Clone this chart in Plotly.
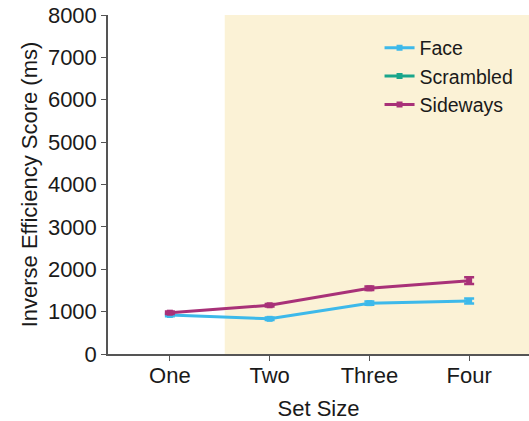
import plotly.graph_objects as go

categories = ["One", "Two", "Three", "Four"]
face = [920, 830, 1200, 1250]
face_err = [30, 30, 40, 60]
sideways = [975, 1150, 1550, 1730]
sideways_err = [30, 30, 40, 80]
scrambled = [None, None, None, None]
yticks = [0, 1000, 2000, 3000, 4000, 5000, 6000, 7000, 8000]

FONT = "Liberation Sans, Arial, sans-serif"

fig = go.Figure()
fig.add_shape(type="rect", xref="x", yref="paper", x0=0.55, x1=3.6, y0=0, y1=1,
              fillcolor="#fbf2d6", line_width=0, layer="below")

fig.add_trace(go.Scatter(x=[0, 1, 2, 3], y=face, name="Face", mode="lines+markers",
                         line=dict(color="#3db9ea", width=3),
                         marker=dict(symbol="square", size=6, color="#3db9ea"),
                         error_y=dict(type="data", array=face_err, color="#3db9ea", thickness=2.5, width=5)))
fig.add_trace(go.Scatter(x=[0, 1, 2, 3], y=scrambled, name="Scrambled", mode="lines+markers",
                         line=dict(color="#19a68b", width=3),
                         marker=dict(symbol="square", size=6, color="#19a68b")))
fig.add_trace(go.Scatter(x=[0, 1, 2, 3], y=sideways, name="Sideways", mode="lines+markers",
                         line=dict(color="#a83178", width=3),
                         marker=dict(symbol="square", size=6, color="#a83178"),
                         error_y=dict(type="data", array=sideways_err, color="#a83178", thickness=2.5, width=5)))

fig.update_layout(
    width=529, height=421,
    margin=dict(l=108, r=0, t=15, b=67),
    paper_bgcolor="white", plot_bgcolor="rgba(0,0,0,0)",
    font=dict(family=FONT, size=23, color="#1a1a1a"),
    showlegend=True,
    legend=dict(x=0.645, y=0.96, xanchor="left", yanchor="top", bgcolor="rgba(0,0,0,0)",
                font=dict(size=19.5), itemwidth=30, tracegroupgap=0),
    xaxis=dict(range=[-0.62, 3.6], tickmode="array", tickvals=[0, 1, 2, 3], ticktext=categories,
               showline=True, linecolor="#555", linewidth=1.5, ticks="outside", ticklen=5,
               tickcolor="#555", showgrid=False, zeroline=False, automargin=False,
               tickfont=dict(size=22), ticklabelstandoff=-4,
               title=dict(text="Set Size", font=dict(size=22), standoff=13)),
    yaxis=dict(range=[0, 8000], tickmode="array", tickvals=yticks,
               showline=True, linecolor="#555", linewidth=1.5, ticks="outside", ticklen=5,
               tickcolor="#555", showgrid=False, zeroline=False, automargin=False,
               tickfont=dict(size=22), ticklabeloverflow="allow",
               title=dict(text="Inverse Efficiency Score (ms)", font=dict(size=22), standoff=4)),
)

fig.write_html("out.html", config={"displayModeBar": False},
               post_script="document.body.style.margin='0';")
